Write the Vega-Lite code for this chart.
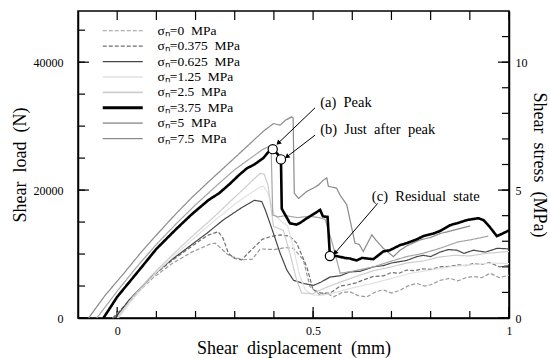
{
  "$schema": "https://vega.github.io/schema/vega-lite/v6.json",
  "width": 431,
  "height": 307,
  "autosize": {"type": "none"},
  "padding": {"left": 78, "top": 11, "right": 41, "bottom": 40},
  "background": "white",
  "config": {
    "view": {"stroke": "black", "strokeWidth": 1.5},
    "font": "Liberation Serif",
    "axis": {
      "grid": false, "domainColor": "black", "domainWidth": 1.5, "ticks": false, "tickSize": 0,
      "labelFont": "Liberation Serif", "labelFontSize": 12, "labelColor": "black",
      "titleFont": "Liberation Serif", "titleFontSize": 18, "titleFontWeight": "normal", "titleColor": "black"
    },
    "legend": {"labelFont": "Liberation Serif"}
  },
  "datasets": {
    "xt": [{"v":0},{"v":0.1},{"v":0.2},{"v":0.3},{"v":0.4},{"v":0.5},{"v":0.6},{"v":0.7},{"v":0.8},{"v":0.9},{"v":1}],
    "yl": [{"v":0},{"v":5000},{"v":10000},{"v":15000},{"v":20000},{"v":25000},{"v":30000},{"v":35000},{"v":40000},{"v":45000}],
    "yr": [{"v":0},{"v":4000},{"v":8000},{"v":12000},{"v":16000},{"v":20000},{"v":24000},{"v":28000},{"v":32000},{"v":36000},{"v":40000},{"v":44000}],
    "curves": [
      {"s":"0","x":-0.012,"y":0},{"s":"0","x":0.04,"y":3200},{"s":"0","x":0.09,"y":6200},{"s":"0","x":0.14,"y":8500},{"s":"0","x":0.19,"y":10300},{"s":"0","x":0.235,"y":11500},{"s":"0","x":0.25,"y":11700},{"s":"0","x":0.265,"y":10900},{"s":"0","x":0.28,"y":10000},{"s":"0","x":0.293,"y":9600},{"s":"0","x":0.32,"y":9100},{"s":"0","x":0.345,"y":9200},{"s":"0","x":0.365,"y":10800},{"s":"0","x":0.4,"y":10700},{"s":"0","x":0.43,"y":11000},{"s":"0","x":0.45,"y":10900},{"s":"0","x":0.475,"y":9100},{"s":"0","x":0.492,"y":4900},{"s":"0","x":0.518,"y":3600},{"s":"0","x":0.535,"y":3900},{"s":"0","x":0.552,"y":3300},{"s":"0","x":0.575,"y":4000},{"s":"0","x":0.594,"y":4100},{"s":"0","x":0.615,"y":3500},{"s":"0","x":0.637,"y":3300},{"s":"0","x":0.66,"y":4100},{"s":"0","x":0.679,"y":4400},{"s":"0","x":0.7,"y":3900},{"s":"0","x":0.72,"y":4300},{"s":"0","x":0.745,"y":5100},{"s":"0","x":0.765,"y":5400},{"s":"0","x":0.785,"y":5000},{"s":"0","x":0.8,"y":5200},{"s":"0","x":0.825,"y":5900},{"s":"0","x":0.849,"y":6200},{"s":"0","x":0.87,"y":5800},{"s":"0","x":0.89,"y":6300},{"s":"0","x":0.909,"y":6500},{"s":"0","x":0.93,"y":6300},{"s":"0","x":0.952,"y":7000},{"s":"0","x":0.975,"y":6300},{"s":"0","x":1.0,"y":6700},
      {"s":"0.375","x":-0.01,"y":0},{"s":"0.375","x":0.04,"y":3300},{"s":"0.375","x":0.09,"y":6500},{"s":"0.375","x":0.14,"y":9000},{"s":"0.375","x":0.19,"y":11200},{"s":"0.375","x":0.23,"y":12900},{"s":"0.375","x":0.258,"y":13500},{"s":"0.375","x":0.27,"y":12500},{"s":"0.375","x":0.284,"y":10100},{"s":"0.375","x":0.3,"y":9300},{"s":"0.375","x":0.318,"y":9100},{"s":"0.375","x":0.335,"y":10200},{"s":"0.375","x":0.352,"y":11200},{"s":"0.375","x":0.37,"y":12300},{"s":"0.375","x":0.39,"y":12700},{"s":"0.375","x":0.416,"y":13000},{"s":"0.375","x":0.44,"y":12800},{"s":"0.375","x":0.458,"y":11700},{"s":"0.375","x":0.47,"y":10000},{"s":"0.375","x":0.484,"y":8000},{"s":"0.375","x":0.5,"y":4400},{"s":"0.375","x":0.52,"y":3900},{"s":"0.375","x":0.543,"y":3900},{"s":"0.375","x":0.57,"y":5000},{"s":"0.375","x":0.59,"y":5200},{"s":"0.375","x":0.61,"y":5500},{"s":"0.375","x":0.63,"y":6000},{"s":"0.375","x":0.654,"y":6500},{"s":"0.375","x":0.68,"y":6600},{"s":"0.375","x":0.7,"y":7100},{"s":"0.375","x":0.72,"y":7000},{"s":"0.375","x":0.739,"y":7500},{"s":"0.375","x":0.76,"y":7400},{"s":"0.375","x":0.78,"y":7700},{"s":"0.375","x":0.8,"y":7600},{"s":"0.375","x":0.824,"y":8000},{"s":"0.375","x":0.85,"y":8100},{"s":"0.375","x":0.87,"y":8300},{"s":"0.375","x":0.89,"y":8200},{"s":"0.375","x":0.909,"y":8500},{"s":"0.375","x":0.93,"y":8400},{"s":"0.375","x":0.95,"y":8700},{"s":"0.375","x":0.975,"y":8000},{"s":"0.375","x":1.0,"y":8200},
      {"s":"0.625","x":-0.005,"y":0},{"s":"0.625","x":0.03,"y":2800},{"s":"0.625","x":0.08,"y":6000},{"s":"0.625","x":0.13,"y":8700},{"s":"0.625","x":0.18,"y":11000},{"s":"0.625","x":0.23,"y":13300},{"s":"0.625","x":0.27,"y":15300},{"s":"0.625","x":0.314,"y":17100},{"s":"0.625","x":0.35,"y":18400},{"s":"0.625","x":0.369,"y":18200},{"s":"0.625","x":0.378,"y":16900},{"s":"0.625","x":0.39,"y":14800},{"s":"0.625","x":0.399,"y":13200},{"s":"0.625","x":0.416,"y":10100},{"s":"0.625","x":0.433,"y":7500},{"s":"0.625","x":0.45,"y":5900},{"s":"0.625","x":0.475,"y":5400},{"s":"0.625","x":0.501,"y":5100},{"s":"0.625","x":0.52,"y":5600},{"s":"0.625","x":0.543,"y":6400},{"s":"0.625","x":0.569,"y":6600},{"s":"0.625","x":0.594,"y":7200},{"s":"0.625","x":0.62,"y":7300},{"s":"0.625","x":0.654,"y":8000},{"s":"0.625","x":0.68,"y":8200},{"s":"0.625","x":0.7,"y":8600},{"s":"0.625","x":0.739,"y":9000},{"s":"0.625","x":0.765,"y":9600},{"s":"0.625","x":0.781,"y":9800},{"s":"0.625","x":0.8,"y":9600},{"s":"0.625","x":0.824,"y":10300},{"s":"0.625","x":0.845,"y":10700},{"s":"0.625","x":0.867,"y":10600},{"s":"0.625","x":0.885,"y":10100},{"s":"0.625","x":0.909,"y":10600},{"s":"0.625","x":0.94,"y":10300},{"s":"0.625","x":0.97,"y":10900},{"s":"0.625","x":1.0,"y":10800},
      {"s":"1.25","x":0.003,"y":0},{"s":"1.25","x":0.05,"y":3700},{"s":"1.25","x":0.1,"y":7100},{"s":"1.25","x":0.15,"y":10000},{"s":"1.25","x":0.2,"y":12700},{"s":"1.25","x":0.25,"y":15300},{"s":"1.25","x":0.3,"y":17800},{"s":"1.25","x":0.34,"y":19500},{"s":"1.25","x":0.365,"y":20500},{"s":"1.25","x":0.373,"y":20600},{"s":"1.25","x":0.385,"y":19500},{"s":"1.25","x":0.4,"y":16300},{"s":"1.25","x":0.42,"y":15000},{"s":"1.25","x":0.435,"y":14400},{"s":"1.25","x":0.45,"y":11000},{"s":"1.25","x":0.465,"y":6800},{"s":"1.25","x":0.48,"y":4400},{"s":"1.25","x":0.5,"y":3600},{"s":"1.25","x":0.52,"y":3500},{"s":"1.25","x":0.55,"y":3900},{"s":"1.25","x":0.6,"y":4700},{"s":"1.25","x":0.65,"y":5400},{"s":"1.25","x":0.7,"y":6200},{"s":"1.25","x":0.75,"y":7000},{"s":"1.25","x":0.8,"y":7500},{"s":"1.25","x":0.85,"y":8000},{"s":"1.25","x":0.9,"y":8300},{"s":"1.25","x":0.95,"y":8600},{"s":"1.25","x":1.0,"y":8500},
      {"s":"2.5","x":0.0,"y":0},{"s":"2.5","x":0.04,"y":3300},{"s":"2.5","x":0.09,"y":6800},{"s":"2.5","x":0.14,"y":9800},{"s":"2.5","x":0.19,"y":12700},{"s":"2.5","x":0.24,"y":15400},{"s":"2.5","x":0.29,"y":18300},{"s":"2.5","x":0.33,"y":20600},{"s":"2.5","x":0.352,"y":21900},{"s":"2.5","x":0.365,"y":22600},{"s":"2.5","x":0.375,"y":22500},{"s":"2.5","x":0.385,"y":20800},{"s":"2.5","x":0.393,"y":17000},{"s":"2.5","x":0.399,"y":14300},{"s":"2.5","x":0.424,"y":13700},{"s":"2.5","x":0.441,"y":10100},{"s":"2.5","x":0.458,"y":5900},{"s":"2.5","x":0.471,"y":3900},{"s":"2.5","x":0.5,"y":3800},{"s":"2.5","x":0.53,"y":4700},{"s":"2.5","x":0.569,"y":5600},{"s":"2.5","x":0.61,"y":6500},{"s":"2.5","x":0.654,"y":7400},{"s":"2.5","x":0.7,"y":8000},{"s":"2.5","x":0.739,"y":8600},{"s":"2.5","x":0.78,"y":8900},{"s":"2.5","x":0.82,"y":9500},{"s":"2.5","x":0.86,"y":9800},{"s":"2.5","x":0.9,"y":9700},{"s":"2.5","x":0.94,"y":10100},{"s":"2.5","x":1.0,"y":10400},
      {"s":"5","x":-0.052,"y":0},{"s":"5","x":0.0,"y":4200},{"s":"5","x":0.05,"y":8000},{"s":"5","x":0.1,"y":11500},{"s":"5","x":0.15,"y":14700},{"s":"5","x":0.2,"y":17700},{"s":"5","x":0.25,"y":20500},{"s":"5","x":0.3,"y":23200},{"s":"5","x":0.352,"y":25500},{"s":"5","x":0.37,"y":26300},{"s":"5","x":0.386,"y":26800},{"s":"5","x":0.393,"y":26500},{"s":"5","x":0.397,"y":16100},{"s":"5","x":0.41,"y":15800},{"s":"5","x":0.43,"y":16000},{"s":"5","x":0.46,"y":15700},{"s":"5","x":0.49,"y":15900},{"s":"5","x":0.515,"y":15700},{"s":"5","x":0.531,"y":15400},{"s":"5","x":0.55,"y":11500},{"s":"5","x":0.569,"y":7000},{"s":"5","x":0.6,"y":7300},{"s":"5","x":0.654,"y":8000},{"s":"5","x":0.7,"y":8900},{"s":"5","x":0.739,"y":9600},{"s":"5","x":0.78,"y":10100},{"s":"5","x":0.824,"y":10900},{"s":"5","x":0.87,"y":11900},{"s":"5","x":0.9,"y":12200},{"s":"5","x":0.947,"y":12800},
      {"s":"7.5","x":-0.073,"y":0},{"s":"7.5","x":-0.03,"y":3600},{"s":"7.5","x":0.02,"y":7200},{"s":"7.5","x":0.06,"y":10200},{"s":"7.5","x":0.105,"y":13300},{"s":"7.5","x":0.15,"y":16300},{"s":"7.5","x":0.19,"y":18800},{"s":"7.5","x":0.235,"y":21400},{"s":"7.5","x":0.276,"y":23700},{"s":"7.5","x":0.315,"y":25900},{"s":"7.5","x":0.352,"y":28000},{"s":"7.5","x":0.375,"y":29300},{"s":"7.5","x":0.399,"y":30400},{"s":"7.5","x":0.416,"y":30150},{"s":"7.5","x":0.429,"y":30900},{"s":"7.5","x":0.445,"y":31450},{"s":"7.5","x":0.449,"y":31300},{"s":"7.5","x":0.452,"y":19500},{"s":"7.5","x":0.463,"y":18700},{"s":"7.5","x":0.484,"y":19800},{"s":"7.5","x":0.5,"y":20300},{"s":"7.5","x":0.514,"y":20800},{"s":"7.5","x":0.525,"y":21500},{"s":"7.5","x":0.535,"y":21900},{"s":"7.5","x":0.539,"y":20600},{"s":"7.5","x":0.56,"y":20300},{"s":"7.5","x":0.569,"y":19200},{"s":"7.5","x":0.586,"y":17700},{"s":"7.5","x":0.607,"y":11700},{"s":"7.5","x":0.618,"y":11500},{"s":"7.5","x":0.628,"y":10400},{"s":"7.5","x":0.65,"y":13000},{"s":"7.5","x":0.66,"y":12200},{"s":"7.5","x":0.679,"y":10900},{"s":"7.5","x":0.705,"y":9600},{"s":"7.5","x":0.722,"y":10600},{"s":"7.5","x":0.74,"y":11300},{"s":"7.5","x":0.773,"y":12200},{"s":"7.5","x":0.8,"y":12600},{"s":"7.5","x":0.824,"y":13200},{"s":"7.5","x":0.85,"y":13600},{"s":"7.5","x":0.875,"y":14000},{"s":"7.5","x":0.901,"y":14400},
      {"s":"3.75","x":-0.035,"y":0},{"s":"3.75","x":0.0,"y":3300},{"s":"3.75","x":0.063,"y":8000},{"s":"3.75","x":0.1,"y":10800},{"s":"3.75","x":0.148,"y":13750},{"s":"3.75","x":0.19,"y":16200},{"s":"3.75","x":0.233,"y":18440},{"s":"3.75","x":0.26,"y":19500},{"s":"3.75","x":0.288,"y":21000},{"s":"3.75","x":0.31,"y":22300},{"s":"3.75","x":0.331,"y":23400},{"s":"3.75","x":0.35,"y":24000},{"s":"3.75","x":0.373,"y":25000},{"s":"3.75","x":0.385,"y":25900},{"s":"3.75","x":0.397,"y":26400},{"s":"3.75","x":0.41,"y":25600},{"s":"3.75","x":0.418,"y":24800},{"s":"3.75","x":0.42,"y":17100},{"s":"3.75","x":0.441,"y":14800},{"s":"3.75","x":0.458,"y":14600},{"s":"3.75","x":0.47,"y":15000},{"s":"3.75","x":0.484,"y":15600},{"s":"3.75","x":0.5,"y":16200},{"s":"3.75","x":0.518,"y":16900},{"s":"3.75","x":0.525,"y":15900},{"s":"3.75","x":0.537,"y":15800},{"s":"3.75","x":0.543,"y":9600},{"s":"3.75","x":0.56,"y":9700},{"s":"3.75","x":0.58,"y":9400},{"s":"3.75","x":0.594,"y":9300},{"s":"3.75","x":0.611,"y":9000},{"s":"3.75","x":0.625,"y":9400},{"s":"3.75","x":0.637,"y":9300},{"s":"3.75","x":0.654,"y":9200},{"s":"3.75","x":0.679,"y":10400},{"s":"3.75","x":0.696,"y":10600},{"s":"3.75","x":0.722,"y":11400},{"s":"3.75","x":0.739,"y":11700},{"s":"3.75","x":0.765,"y":12300},{"s":"3.75","x":0.781,"y":12800},{"s":"3.75","x":0.807,"y":13200},{"s":"3.75","x":0.824,"y":13600},{"s":"3.75","x":0.849,"y":14500},{"s":"3.75","x":0.867,"y":14800},{"s":"3.75","x":0.892,"y":15300},{"s":"3.75","x":0.901,"y":15400},{"s":"3.75","x":0.922,"y":15600},{"s":"3.75","x":0.935,"y":15300},{"s":"3.75","x":0.95,"y":14300},{"s":"3.75","x":0.969,"y":12800},{"s":"3.75","x":0.98,"y":13100},{"s":"3.75","x":1.0,"y":13700}
    ],
    "pts": [
      {"id":"a","x":0.397,"y":26400},
      {"id":"b","x":0.418,"y":24800},
      {"id":"c","x":0.543,"y":9690}
    ],
    "ann": [
      {"id":"a","label":"(a)\u00a0 Peak","tx":0.518,"ty":33640,"x0":0.505,"y0":32860,"x1":0.411,"y1":27340},
      {"id":"b","label":"(b)\u00a0 Just\u00a0 after\u00a0 peak","tx":0.518,"ty":29380,"x0":0.505,"y0":28590,"x1":0.433,"y1":25200},
      {"id":"c","label":"(c)\u00a0 Residual\u00a0 state","tx":0.65,"ty":18950,"x0":0.665,"y0":17920,"x1":0.556,"y1":10160}
    ]
  },
  "layer": [
    {
      "data": {"name": "xt"},
      "mark": {"type": "rule", "color": "black", "strokeWidth": 1.2},
      "encoding": {
        "x": {"field": "v", "type": "quantitative", "scale": {"domain": [-0.1, 1], "nice": false, "zero": false}, "axis": null},
        "y": {"datum": 0, "type": "quantitative", "scale": {"domain": [0, 48000], "nice": false}, "axis": null},
        "y2": {"datum": 1100}
      }
    },
    {
      "data": {"name": "xt"},
      "transform": [{"filter": "datum.v == 0 || datum.v == 0.5 || datum.v == 1"}],
      "mark": {"type": "rule", "color": "black", "strokeWidth": 1.2},
      "encoding": {
        "x": {"field": "v", "type": "quantitative", "scale": {"domain": [-0.1, 1], "nice": false, "zero": false}, "axis": null},
        "y": {"datum": 0, "type": "quantitative", "scale": {"domain": [0, 48000], "nice": false}, "axis": null},
        "y2": {"datum": 1720}
      }
    },
    {
      "data": {"name": "xt"},
      "mark": {"type": "rule", "color": "black", "strokeWidth": 1.2},
      "encoding": {
        "x": {"field": "v", "type": "quantitative", "scale": {"domain": [-0.1, 1], "nice": false, "zero": false}, "axis": null},
        "y": {"datum": 48000, "type": "quantitative", "scale": {"domain": [0, 48000], "nice": false}, "axis": null},
        "y2": {"datum": 46600}
      }
    },
    {
      "data": {"name": "yl"},
      "mark": {"type": "rule", "color": "black", "strokeWidth": 1.2},
      "encoding": {
        "y": {"field": "v", "type": "quantitative", "scale": {"domain": [0, 48000], "nice": false}, "axis": null},
        "x": {"datum": -0.1, "type": "quantitative", "scale": {"domain": [-0.1, 1], "nice": false, "zero": false}, "axis": null},
        "x2": {"datum": -0.082}
      }
    },
    {
      "data": {"name": "yl"},
      "transform": [{"filter": "datum.v == 0 || datum.v == 20000 || datum.v == 40000"}],
      "mark": {"type": "rule", "color": "black", "strokeWidth": 1.2},
      "encoding": {
        "y": {"field": "v", "type": "quantitative", "scale": {"domain": [0, 48000], "nice": false}, "axis": null},
        "x": {"datum": -0.1, "type": "quantitative", "scale": {"domain": [-0.1, 1], "nice": false, "zero": false}, "axis": null},
        "x2": {"datum": -0.072}
      }
    },
    {
      "data": {"name": "yr"},
      "mark": {"type": "rule", "color": "black", "strokeWidth": 1.2},
      "encoding": {
        "y": {"field": "v", "type": "quantitative", "scale": {"domain": [0, 48000], "nice": false}, "axis": null},
        "x": {"datum": 1, "type": "quantitative", "scale": {"domain": [-0.1, 1], "nice": false, "zero": false}, "axis": null},
        "x2": {"datum": 0.982}
      }
    },
    {
      "data": {"name": "yr"},
      "transform": [{"filter": "datum.v == 0 || datum.v == 20000 || datum.v == 40000"}],
      "mark": {"type": "rule", "color": "black", "strokeWidth": 1.2},
      "encoding": {
        "y": {"field": "v", "type": "quantitative", "scale": {"domain": [0, 48000], "nice": false}, "axis": null},
        "x": {"datum": 1, "type": "quantitative", "scale": {"domain": [-0.1, 1], "nice": false, "zero": false}, "axis": null},
        "x2": {"datum": 0.972}
      }
    },
    {
      "data": {"name": "curves"},
      "mark": {"type": "line", "strokeJoin": "miter"},
      "encoding": {
        "x": {"field": "x", "type": "quantitative", "scale": {"domain": [-0.1, 1], "nice": false, "zero": false},
          "axis": {"orient": "bottom", "title": "Shear\u00a0 displacement\u00a0 (mm)", "values": [0,0.5,1],
            "labelExpr": "datum.value == 0 ? '0' : datum.value == 0.5 ? '0.5' : '1'",
            "labelPadding": 7, "labelFlush": false,
            "titleX": 215.5, "titleY": 30, "titleAnchor": null, "titleAlign": "center", "titleBaseline": "middle"}},
        "y": {"field": "y", "type": "quantitative", "scale": {"domain": [0, 48000], "nice": false},
          "axis": {"orient": "left", "title": "Shear\u00a0 load\u00a0 (N)", "values": [0,20000,40000],
            "format": "d",
            "labelPadding": 15, "labelFlush": false,
            "titleX": -58, "titleY": 153.5, "titleAngle": -90, "titleAlign": "center", "titleBaseline": "middle"}},
        "stroke": {"field": "s", "type": "ordinal",
          "scale": {"domain": ["0","0.375","0.625","1.25","2.5","3.75","5","7.5"],
            "range": ["#9a9a9a","#707070","#474747","#e2e2e2","#cdcdcd","#000000","#a5a5a5","#8a8a8a"]},
          "legend": {"orient": "none", "legendX": 38, "legendY": 13, "title": null, "padding": 0,
            "symbolType": "M-5,0H5", "symbolSize": 64, "labelOffset": 28, "labelFontSize": 13.5, "labelColor": "black",
            "rowPadding": 0.4, "labelExpr": "'\u03c3\u2099=' + datum.label + '\u00a0 MPa'",
            "encode": {"symbols": {"update": {"strokeWidth": {"signal": "datum.value == '3.75' ? 3 : datum.value == '5' || datum.value == '1.25' || datum.value == '2.5' ? 1.6 : 1.2"}}}}}},
        "strokeDash": {"field": "s", "type": "ordinal",
          "scale": {"domain": ["0","0.375","0.625","1.25","2.5","3.75","5","7.5"],
            "range": [[4,2],[4,2],[1,0],[1,0],[1,0],[1,0],[1,0],[1,0]]}},
        "strokeWidth": {"condition": {"test": "datum.s == '3.75'", "value": 2.6}, "value": 1.2},
        "detail": {"field": "s"}
      }
    },
    {
      "data": {"name": "ann"},
      "mark": {"type": "rule", "color": "black", "strokeWidth": 1},
      "encoding": {
        "x": {"field": "x0", "type": "quantitative", "scale": {"domain": [-0.1, 1], "nice": false, "zero": false}, "axis": null},
        "y": {"field": "y0", "type": "quantitative", "scale": {"domain": [0, 48000], "nice": false}, "axis": null},
        "x2": {"field": "x1"},
        "y2": {"field": "y1"}
      }
    },
    {
      "data": {"name": "ann"},
      "transform": [{"filter": "datum.id == 'a'"}],
      "mark": {"type": "point", "shape": "triangle-up", "filled": true, "color": "black", "size": 30, "angle": 226, "opacity": 1},
      "encoding": {
        "x": {"field": "x1", "type": "quantitative", "scale": {"domain": [-0.1, 1], "nice": false, "zero": false}, "axis": null},
        "y": {"field": "y1", "type": "quantitative", "scale": {"domain": [0, 48000], "nice": false}, "axis": null}
      }
    },
    {
      "data": {"name": "ann"},
      "transform": [{"filter": "datum.id == 'b'"}],
      "mark": {"type": "point", "shape": "triangle-up", "filled": true, "color": "black", "size": 30, "angle": 232, "opacity": 1},
      "encoding": {
        "x": {"field": "x1", "type": "quantitative", "scale": {"domain": [-0.1, 1], "nice": false, "zero": false}, "axis": null},
        "y": {"field": "y1", "type": "quantitative", "scale": {"domain": [0, 48000], "nice": false}, "axis": null}
      }
    },
    {
      "data": {"name": "ann"},
      "transform": [{"filter": "datum.id == 'c'"}],
      "mark": {"type": "point", "shape": "triangle-up", "filled": true, "color": "black", "size": 30, "angle": 221, "opacity": 1},
      "encoding": {
        "x": {"field": "x1", "type": "quantitative", "scale": {"domain": [-0.1, 1], "nice": false, "zero": false}, "axis": null},
        "y": {"field": "y1", "type": "quantitative", "scale": {"domain": [0, 48000], "nice": false}, "axis": null}
      }
    },
    {
      "data": {"name": "pts"},
      "mark": {"type": "point", "shape": "circle", "filled": true, "fill": "white", "stroke": "black", "strokeWidth": 1.2, "size": 85, "opacity": 1},
      "encoding": {
        "x": {"field": "x", "type": "quantitative", "scale": {"domain": [-0.1, 1], "nice": false, "zero": false}, "axis": null},
        "y": {"field": "y", "type": "quantitative", "scale": {"domain": [0, 48000], "nice": false}, "axis": null}
      }
    },
    {
      "data": {"name": "ann"},
      "mark": {"type": "text", "align": "left", "baseline": "middle", "font": "Liberation Serif", "fontSize": 14.5, "color": "black"},
      "encoding": {
        "x": {"field": "tx", "type": "quantitative", "scale": {"domain": [-0.1, 1], "nice": false, "zero": false}, "axis": null},
        "y": {"field": "ty", "type": "quantitative", "scale": {"domain": [0, 48000], "nice": false}, "axis": null},
        "text": {"field": "label"}
      }
    },
    {
      "data": {"name": "pts"},
      "mark": {"type": "point", "opacity": 0},
      "encoding": {
        "x": {"field": "x", "type": "quantitative", "scale": {"domain": [-0.1, 1], "nice": false, "zero": false}, "axis": null},
        "y": {"field": "y", "type": "quantitative", "scale": {"domain": [0, 48000], "nice": false},
          "axis": {"orient": "right", "title": "Shear\u00a0 stress\u00a0 (MPa)", "values": [0,20000,40000],
            "labelExpr": "datum.value == 0 ? '0' : datum.value == 20000 ? '5' : '10'",
            "labelPadding": 6, "labelFlush": false,
            "titleX": 29, "titleY": 153.5, "titleAngle": 90, "titleAlign": "center", "titleBaseline": "middle"}}
      }
    }
  ],
  "resolve": {"axis": {"x": "independent", "y": "independent"}}
}
